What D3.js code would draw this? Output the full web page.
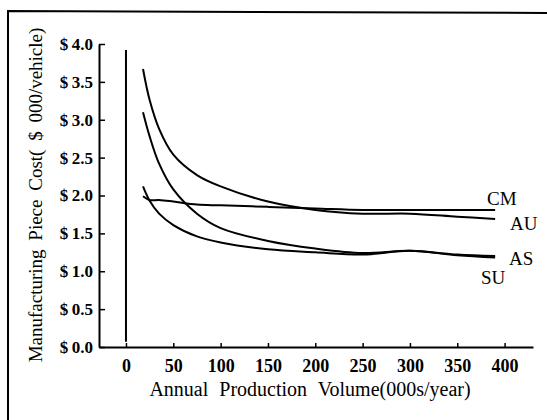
<!DOCTYPE html>
<html>
<head>
<meta charset="utf-8">
<script src="https://d3js.org/d3.v7.min.js"></script>
<style>
  body { margin: 0; background: #fff; }
  svg text { font-family: "Liberation Serif", "Times New Roman", Times, serif; fill: #000; }
</style>
</head>
<body>
<script>
// annual production volume (000s/year) sampled along each curve
var volume = [18, 25, 35, 50, 75, 100, 150, 200, 250, 300, 350, 390];
// manufacturing piece cost ($000/vehicle)
var costCM = [1.99, 1.94, 1.94, 1.92, 1.88, 1.87, 1.85, 1.83, 1.81, 1.81, 1.81, 1.81];
var costAU = [3.67, 3.26, 2.88, 2.54, 2.27, 2.12, 1.92, 1.81, 1.76, 1.76, 1.72, 1.69];
var costAS = [3.10, 2.78, 2.42, 2.08, 1.76, 1.57, 1.40, 1.30, 1.24, 1.27, 1.22, 1.20];
var costSU = [2.12, 1.93, 1.76, 1.61, 1.46, 1.38, 1.29, 1.25, 1.22, 1.27, 1.21, 1.18];
var seriesNames = ["CM", "AU", "AS", "SU"];
var xTicks = [0, 50, 100, 150, 200, 250, 300, 350, 400];
var yTicks = [0, 0.5, 1.0, 1.5, 2.0, 2.5, 3.0, 3.5, 4.0];
// the vertical line drawn at zero volume
var zeroLine = [0.07, 3.92];

var W = 547, H = 420;
var FONT = '"Liberation Serif", "Times New Roman", Times, serif';
var svg = d3.select("body").append("svg")
    .attr("width", W)
    .attr("height", H);

// scan frame (left and top edge only)
svg.append("path")
    .attr("d", "M8,420 L8,11 L547,13")
    .attr("fill", "none")
    .attr("stroke", "#000")
    .attr("stroke-width", 2);

var x = d3.scaleLinear().domain([-28.5, 430]).range([99, 533]);
var y = d3.scaleLinear().domain([0, 4]).range([347, 44]);

// x axis
var gx = svg.append("g")
    .attr("transform", "translate(0," + y(0) + ")")
    .attr("font-family", FONT)
    .call(d3.axisBottom(x).tickValues(xTicks).tickSizeInner(-4).tickSizeOuter(0).tickPadding(12));
gx.select(".domain").attr("stroke-width", 2);
gx.selectAll(".tick line").attr("stroke-width", 1.5);
gx.selectAll("text").style("font-size", "18px").style("font-family", FONT).style("font-weight", "bold");

// y axis
var gy = svg.append("g")
    .attr("transform", "translate(" + x.range()[0] + ",0)")
    .attr("font-family", FONT)
    .call(d3.axisLeft(y).tickValues(yTicks).tickSizeInner(-6).tickSizeOuter(0).tickPadding(6)
        .tickFormat(function(d) { return "$\u2009" + d3.format(".1f")(d); }));
gy.select(".domain").attr("stroke-width", 2);
gy.selectAll(".tick line").attr("stroke-width", 1.5);
gy.selectAll("text").style("font-size", "17px").style("font-family", FONT).style("font-weight", "bold");

// axis titles
svg.append("text")
    .attr("x", 310)
    .attr("y", 396)
    .attr("text-anchor", "middle")
    .style("font-family", FONT)
    .style("font-size", "20px")
    .style("word-spacing", "6px")
    .text("Annual Production Volume(000s/year)");

svg.append("text")
    .attr("transform", "translate(42,195) rotate(-90)")
    .attr("text-anchor", "middle")
    .style("font-family", FONT)
    .style("font-size", "19px")
    .style("word-spacing", "4px")
    .text("Manufacturing Piece Cost( $ 000/vehicle)");

// zero-volume line
svg.append("line")
    .attr("x1", x(0)).attr("x2", x(0))
    .attr("y1", y(zeroLine[0])).attr("y2", y(zeroLine[1]))
    .attr("stroke", "#000")
    .attr("stroke-width", 2);

// curves
var allCosts = [costCM, costAU, costAS, costSU];
var line = d3.line()
    .x(function(d) { return x(d[0]); })
    .y(function(d) { return y(d[1]); })
    .curve(d3.curveCatmullRom.alpha(0.5));

allCosts.forEach(function(c) {
    svg.append("path")
        .datum(volume.map(function(v, i) { return [v, c[i]]; }))
        .attr("d", line)
        .attr("fill", "none")
        .attr("stroke", "#000")
        .attr("stroke-width", 2);
});

// series labels next to line ends
var labelPos = {
    CM: [487, 205],
    AU: [510, 230],
    AS: [509, 265],
    SU: [481, 284]
};
seriesNames.forEach(function(n) {
    svg.append("text")
        .attr("x", labelPos[n][0])
        .attr("y", labelPos[n][1])
        .style("font-family", FONT)
        .style("font-size", "19px")
        .text(n);
});
</script>
</body>
</html>
